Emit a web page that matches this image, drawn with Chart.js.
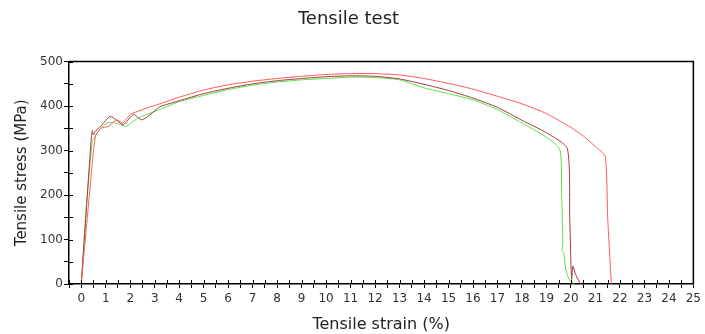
<!DOCTYPE html>
<html>
<head>
<meta charset="utf-8">
<script src="https://cdn.jsdelivr.net/npm/chart.js@4/dist/chart.umd.min.js"></script>
<style>
  html, body { margin: 0; padding: 0; background: #fff; }
  #wrap { width: 705px; height: 334px; }
</style>
</head>
<body>
<div id="wrap"><canvas id="tensileChart"></canvas></div>
<script>
    // strain (%) / stress (MPa), one pair of arrays per specimen
    var strainRed   = [0, 0.25, 0.5, 0.6, 0.8, 1.1, 1.45, 1.7, 2.0, 2.4, 3.2, 4, 5, 6, 7, 8, 9, 10, 11, 12, 13, 14, 15, 16, 17, 18, 19, 20, 20.5, 21, 21.4, 21.5, 21.65];
    var stressRed   = [0, 150, 300, 335, 350, 354, 369, 362, 381, 390, 405, 420, 436, 448, 456, 462, 467, 471, 473, 473, 470, 462, 451, 438, 422, 405, 383, 352, 333, 309, 287, 150, 0];

    var strainBrown = [0, 0.2, 0.4, 0.45, 0.5, 0.57, 0.8, 1.18, 1.45, 1.72, 2.13, 2.47, 2.8, 3.2, 4, 5, 6, 7, 8, 9, 10, 11, 12, 13, 14, 15, 16, 17, 18, 19, 19.85, 19.95, 20.0, 20.03, 20.08, 20.2, 20.4];
    var stressBrown = [0, 160, 320, 345, 335, 343, 355, 377, 368, 358, 381, 369, 380, 398, 412, 428, 440, 450, 457, 462, 466, 468, 467, 461, 449, 435, 418, 397, 368, 340, 305, 150, 47, 10, 40, 20, 0];

    var strainGreen = [0, 0.2, 0.45, 0.6, 0.8, 1.05, 1.3, 1.6, 1.85, 2.1, 2.4, 3.2, 4, 5, 6, 7, 8, 9, 10, 11, 12, 13, 14, 15, 16, 17, 18, 19, 19.55, 19.62, 19.67, 19.63, 19.7, 19.8, 19.95, 20.15];
    var stressGreen = [0, 170, 320, 335, 350, 362, 363, 358, 354, 365, 375, 392, 410, 424, 437, 447, 454, 459, 462, 465, 464, 459, 441, 428, 414, 392, 362, 330, 302, 200, 90, 75, 70, 30, 8, 0];

    var yTickLabels = [0, 100, 200, 300, 400, 500];

    function toPoints(xs, ys) {
        return xs.map(function (x, i) { return { x: x, y: ys[i] }; });
    }

    // ticks that cross the axis lines, plus the top/right frame
    var frame = {
        id: 'frame',
        afterDatasetsDraw: function (chart) {
            var c = chart.ctx, a = chart.chartArea;
            var xs = chart.scales.x, ys = chart.scales.y;
            c.save();
            c.strokeStyle = '#000';
            c.lineWidth = 1;
            c.beginPath();
            xs.ticks.forEach(function (t) {
                var px = Math.round(xs.getPixelForValue(t.value)) + 0.5;
                c.moveTo(px, a.bottom);
                c.lineTo(px, a.bottom - 4);
            });
            ys.ticks.forEach(function (t) {
                var py = Math.round(ys.getPixelForValue(t.value)) + 0.5;
                c.moveTo(a.left, py);
                c.lineTo(a.left + 4, py);
            });
            c.stroke();
            c.lineWidth = 1.5;
            c.beginPath();
            c.moveTo(a.left, a.top);
            c.lineTo(a.right, a.top);
            c.lineTo(a.right, a.bottom);
            c.stroke();
            c.restore();
        }
    };

    var ctx = document.getElementById('tensileChart').getContext('2d');
    var myChart = new Chart(ctx, {
        type: 'scatter',
        data: {
            datasets: [{
                data: toPoints(strainRed, stressRed),
                borderColor: 'rgb(255, 90, 90)',
            }, {
                data: toPoints(strainBrown, stressBrown),
                borderColor: 'rgb(165, 60, 60)',
            }, {
                data: toPoints(strainGreen, stressGreen),
                borderColor: 'rgb(90, 225, 70)',
            }],
        },
        options: {
            responsive: true,
            maintainAspectRatio: false,
            animation: false,
            showLine: true,
            layout: { padding: { left: 0, right: 8, top: 0, bottom: 0 } },
            elements: {
                point: { radius: 0 },
                line: { borderWidth: 1, tension: 0.2 }
            },
            plugins: {
                legend: { display: false },
                tooltip: { enabled: false },
                title: {
                    display: true,
                    text: 'Tensile test',
                    color: '#222',
                    font: { family: 'DejaVu Sans', size: 18, weight: 'normal' },
                    padding: { top: 9, bottom: 31 }
                }
            },
            scales: {
                x: {
                    type: 'linear',
                    min: -0.5,
                    max: 25,
                    border: { color: '#000', width: 1.5 },
                    grid: { drawOnChartArea: false, color: '#000', tickLength: 4 },
                    ticks: {
                        stepSize: 0.5,
                        autoSkip: false,
                        maxRotation: 0,
                        color: '#333',
                        font: { family: 'DejaVu Sans', size: 12 },
                        padding: 4,
                        callback: function (v) { return (v >= 0 && v % 1 === 0) ? v : ''; }
                    },
                    title: {
                        display: true,
                        text: 'Tensile strain (%)',
                        color: '#222',
                        font: { family: 'DejaVu Sans', size: 16 },
                        padding: { top: 2, bottom: 0 }
                    },
                    afterFit: function (s) { s.height = 50; }
                },
                y: {
                    min: 0,
                    max: 500,
                    border: { color: '#000', width: 1.5 },
                    grid: { drawOnChartArea: false, color: '#000', tickLength: 5 },
                    ticks: {
                        stepSize: 50,
                        autoSkip: false,
                        color: '#333',
                        font: { family: 'DejaVu Sans', size: 12 },
                        padding: 1,
                        callback: function (v) { return yTickLabels.indexOf(v) >= 0 ? v : ''; }
                    },
                    title: {
                        display: true,
                        text: 'Tensile stress (MPa)',
                        color: '#222',
                        font: { family: 'DejaVu Sans', size: 15 },
                        padding: { top: 13, bottom: 0 }
                    },
                    afterFit: function (s) { s.width = 69; }
                }
            }
        },
        plugins: [frame]
    });
</script>
</body>
</html>
